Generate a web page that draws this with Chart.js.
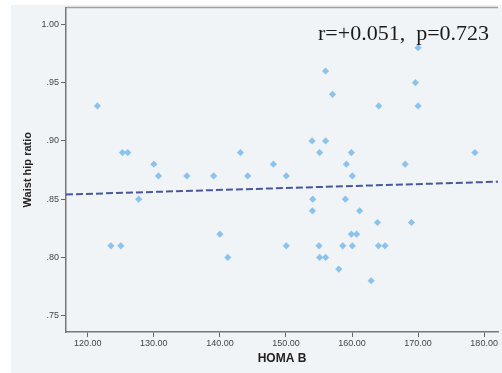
<!DOCTYPE html>
<html>
<head>
<meta charset="utf-8">
<style>
  html, body { margin: 0; padding: 0; background: #ffffff; }
  canvas { display: block; }
</style>
<script src="https://cdn.jsdelivr.net/npm/chart.js@4"></script>
</head>
<body>
<canvas id="myChart" width="502" height="373"></canvas>
<script>
// HOMA B vs waist hip ratio
const homaB = [
    121.45, 125.25, 126.05, 130.0, 130.7, 135.0, 139.05, 144.2, 143.1, 127.7,
    140.0, 123.5, 125.0, 141.2, 156.0, 157.05, 164.05, 153.95, 156.0, 155.1,
    159.9, 148.1, 159.15, 150.05, 160.05, 154.05, 159.0, 154.0, 161.15, 163.85,
    169.0, 159.9, 160.7, 150.05, 155.0, 158.6, 160.05, 164.0, 165.0, 155.1,
    156.0, 158.0, 162.9, 170.0, 169.6, 170.0, 178.6, 168.05
];
const waistHip = [
    .93, .89, .89, .88, .87, .87, .87, .87, .89, .85,
    .82, .81, .81, .80, .96, .94, .93, .90, .90, .89,
    .89, .88, .88, .87, .87, .85, .85, .84, .84, .83,
    .83, .82, .82, .81, .81, .81, .81, .81, .81, .80,
    .80, .79, .78, .98, .95, .93, .89, .88
];

// fitted line, read at both ends of the plot
const fitX = [116.7, 182.1];
const fitY = [0.854, 0.865];

const xTicks = [120, 130, 140, 150, 160, 170, 180];
const yTicks = [0.75, 0.80, 0.85, 0.90, 0.95, 1.00];

const statText = 'r=+0.051,  p=0.723';

const points = homaB.map((x, i) => ({ x: x, y: waistHip[i] }));
const fitLine = fitX.map((x, i) => ({ x: x, y: fitY[i] }));

const panel = {
    id: 'panel',
    beforeDraw(chart) {
        const c = chart.ctx;
        const a = chart.chartArea;
        c.save();
        c.fillStyle = '#f1f4f7';
        c.fillRect(11, 5, chart.width - 11, chart.height - 5);
        c.strokeStyle = '#a0a0a0';
        c.lineWidth = 1.5;
        c.beginPath();
        c.moveTo(a.left, a.top);
        c.lineTo(a.right, a.top);
        c.stroke();
        c.restore();
    },
    afterDatasetsDraw(chart) {
        const c = chart.ctx;
        c.save();
        c.fillStyle = '#1a1a1a';
        c.font = '22px "Liberation Serif"';
        c.textBaseline = 'alphabetic';
        c.fillText(statText, 318, 40);
        c.restore();
    }
};

const ctx = document.getElementById('myChart');

new Chart(ctx, {
    type: 'scatter',
    data: {
        datasets: [{
            label: 'Waist hip ratio',
            data: points,
            pointStyle: 'rectRot',
            pointRadius: 3.6,
            backgroundColor: 'rgb(140, 195, 236)',
            borderWidth: 0,
            order: 2
        }, {
            type: 'line',
            label: 'Fit',
            data: fitLine,
            borderColor: 'rgb(70, 88, 160)',
            borderWidth: 2,
            borderDash: [7, 3],
            pointRadius: 0,
            fill: false,
            order: 1
        }]
    },
    options: {
        responsive: false,
        animation: false,
        devicePixelRatio: 1,
        layout: { padding: { left: 0, top: 7, right: 0, bottom: 0 } },
        plugins: {
            legend: { display: false },
            tooltip: { enabled: false }
        },
        scales: {
            x: {
                type: 'linear',
                min: fitX[0],
                max: fitX[1],
                afterFit: (s) => { s.height = 41; },
                afterBuildTicks: (s) => { s.ticks = xTicks.map(v => ({ value: v })); },
                grid: { drawOnChartArea: false, drawTicks: true, tickLength: 5, color: '#666' },
                border: { display: true, color: '#777', width: 1.5 },
                ticks: {
                    padding: 1,
                    color: '#444',
                    font: { family: '"Liberation Sans"', size: 9 },
                    callback: (v) => v.toFixed(2)
                },
                title: {
                    display: true,
                    text: 'HOMA B',
                    color: '#222',
                    font: { family: '"Liberation Sans"', size: 12, weight: 'bold' },
                    padding: { top: 0, bottom: 7 }
                }
            },
            y: {
                type: 'linear',
                min: 0.736,
                max: 1.0146,
                afterFit: (s) => { s.width = 66; },
                afterBuildTicks: (s) => { s.ticks = yTicks.map(v => ({ value: v })); },
                grid: { drawOnChartArea: false, drawTicks: true, tickLength: 5, color: '#666' },
                border: { display: true, color: '#777', width: 1.5 },
                ticks: {
                    padding: 2,
                    color: '#444',
                    font: { family: '"Liberation Sans"', size: 9 },
                    callback: (v) => v.toFixed(2).replace(/^0/, '')
                },
                title: {
                    display: true,
                    text: 'Waist hip ratio',
                    color: '#222',
                    font: { family: '"Liberation Sans"', size: 11, weight: 'bold' },
                    padding: { top: 21, bottom: 0 }
                }
            }
        }
    },
    plugins: [panel]
});
</script>
</body>
</html>
